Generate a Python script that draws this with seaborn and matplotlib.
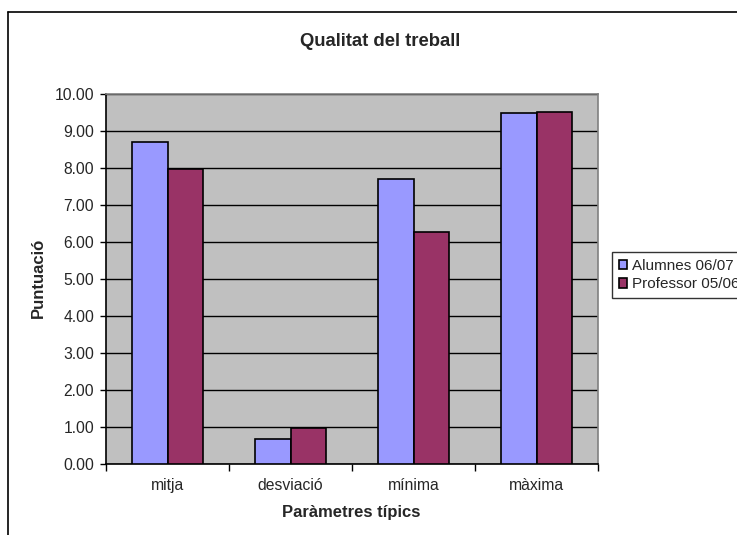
import matplotlib
matplotlib.use("Agg")
import matplotlib.pyplot as plt
from matplotlib.lines import Line2D
import seaborn as sns
import pandas as pd

categories = ["mitja", "desviació", "mínima", "màxima"]
series_names = ["Alumnes 06/07", "Professor 05/06"]
alumnes = [8.70, 0.68, 7.71, 9.49]
professor = [7.98, 0.98, 6.27, 9.52]
yticks = [0, 1, 2, 3, 4, 5, 6, 7, 8, 9, 10]

df = pd.DataFrame({
    "cat": categories * 2,
    "serie": [series_names[0]] * 4 + [series_names[1]] * 4,
    "val": alumnes + professor,
})

sns.set_theme(style="white")
plt.rcParams["font.family"] = ["Liberation Sans", "DejaVu Sans"]

W, H = 737, 535
fig = plt.figure(figsize=(W / 100, H / 100), dpi=100)
ax = fig.add_axes([106 / W, 1 - 464 / H, (598 - 106) / W, (464 - 94) / H])
ax.set_facecolor("#C0C0C0")

sns.barplot(data=df, x="cat", y="val", hue="serie", order=categories,
            hue_order=series_names, palette=["#9999FF", "#993366"],
            width=0.577, edgecolor="black", linewidth=1.2, ax=ax,
            saturation=1, zorder=3)

ax.set_ylim(0, 10)
ax.set_xlim(-0.5, 3.5)
ax.set_yticks(yticks)
ax.set_yticklabels([f"{v:.2f}" for v in yticks], fontsize=11.3)
ax.yaxis.grid(True, color="black", linewidth=1)
ax.set_axisbelow(True)
ax.tick_params(axis="y", which="major", length=4.5, width=1, color="black",
               direction="out", left=True, pad=4)

ax.set_xticks(range(len(categories)))
ax.set_xticklabels(categories, fontsize=11.3)
ax.set_xticks([-0.5, 0.5, 1.5, 2.5, 3.5], minor=True)
ax.tick_params(axis="x", which="major", length=0, pad=10)
ax.tick_params(axis="x", which="minor", length=5, width=1, color="black",
               direction="out", bottom=True)

for side in ["left", "bottom"]:
    ax.spines[side].set_color("black")
    ax.spines[side].set_linewidth(1.2)
for side in ["top", "right"]:
    ax.spines[side].set_color("#808080")
    ax.spines[side].set_linewidth(1.2)

ax.set_xlabel("")
ax.set_ylabel("")
fig.text(351.5 / W, 1 - 513 / H, "Paràmetres típics", fontsize=12,
         fontweight="bold", ha="center", va="center")
fig.text(38 / W, 1 - 278 / H, "Puntuació", fontsize=12, fontweight="bold",
         ha="center", va="center", rotation=90)
fig.text(380 / W, 1 - 42 / H, "Qualitat del treball",
         fontsize=13.3, fontweight="bold", ha="center", va="center")

handles, labels = ax.get_legend_handles_labels()
if ax.legend_:
    ax.legend_.remove()
leg = fig.legend(handles, labels, loc="upper left",
                 bbox_to_anchor=(612 / W, 1 - 252 / H),
                 bbox_transform=fig.transFigure, fontsize=11,
                 frameon=True, fancybox=False, edgecolor="black",
                 handlelength=0.55, handleheight=0.55, handletextpad=0.3,
                 borderpad=0.45, labelspacing=0.3, borderaxespad=0)
leg.get_frame().set_linewidth(1)

fig.add_artist(Line2D([8 / W, 8 / W], [0, 1 - 12 / H], color="black",
                      linewidth=1.2, transform=fig.transFigure))
fig.add_artist(Line2D([8 / W, 1], [1 - 12 / H, 1 - 12 / H], color="black",
                      linewidth=1.2, transform=fig.transFigure))

fig.savefig("out.png", dpi=100, facecolor="white")
